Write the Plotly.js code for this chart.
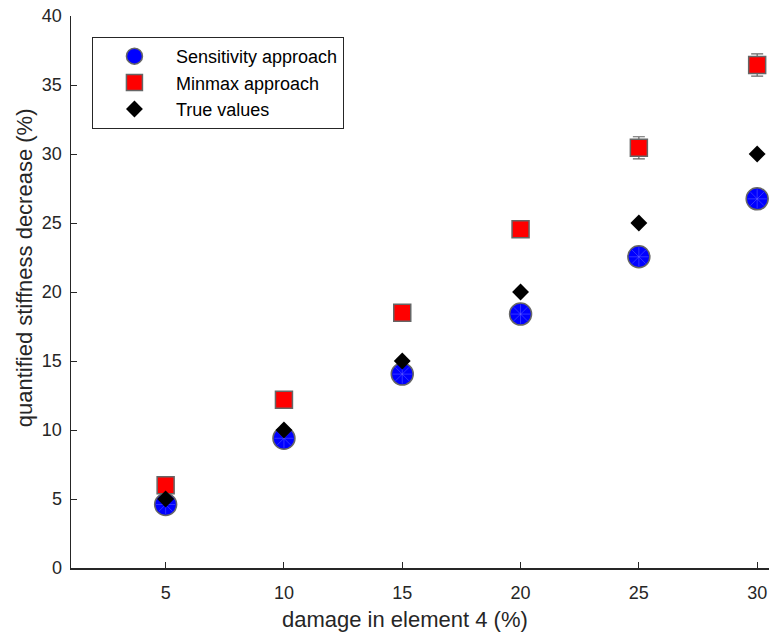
<!DOCTYPE html>
<html>
<head>
<meta charset="utf-8">
<script src="https://cdn.plot.ly/plotly-3.0.1.min.js"></script>
<style>html,body{margin:0;padding:0;background:#fff;}#chart{width:771px;height:633px;}</style>
</head>
<body>
<div id="chart"></div>
<script>
const damage = [5, 10, 15, 20, 25, 30];
const sensitivity = [4.6, 9.4, 14.05, 18.4, 22.55, 26.75];
const minmax = [6.0, 12.2, 18.5, 24.55, 30.45, 36.45];
const minmaxErr = [0.2, 0.2, 0.3, 0.4, 0.8, 0.8];
const trueValues = [5, 10, 15, 20, 25, 30];
const xTicks = [5, 10, 15, 20, 25, 30];
const yTicks = [0, 5, 10, 15, 20, 25, 30, 35, 40];
const xTitle = "damage in element 4 (%)";
const yTitle = "quantified stiffness decrease (%)";

const font = "Liberation Sans, Arial, sans-serif";
const axisColor = "#262626";

const traces = [
  {
    x: damage, y: sensitivity, type: "scatter", mode: "markers",
    name: "Sensitivity approach",
    marker: {symbol: "circle", size: 22, color: "#0000ff", line: {color: "#666666", width: 1.5}}
  },
  {
    x: damage, y: sensitivity, type: "scatter", mode: "markers",
    showlegend: false, hoverinfo: "skip",
    marker: {symbol: "asterisk-open", size: 16, color: "rgba(120,120,255,0.6)", line: {color: "rgba(120,120,255,0.6)", width: 0.7}}
  },
  {
    x: damage, y: minmax, type: "scatter", mode: "markers",
    name: "Minmax approach",
    error_y: {type: "data", array: minmaxErr, visible: true, color: "#666666", thickness: 1.2, width: 6},
    marker: {symbol: "square", size: 17, color: "#ff0000", line: {color: "#666666", width: 1.5}}
  },
  {
    x: damage, y: trueValues, type: "scatter", mode: "markers",
    name: "True values",
    marker: {symbol: "diamond", size: 13, color: "#000000", line: {width: 0}}
  }
];

const layout = {
  width: 771, height: 633,
  margin: {l: 71, r: 2, t: 16, b: 65},
  paper_bgcolor: "#ffffff", plot_bgcolor: "#ffffff",
  font: {family: font, size: 18, color: axisColor},
  showlegend: true,
  legend: {
    x: 0.030, y: 0.962, xanchor: "left", yanchor: "top",
    bordercolor: "#262626", borderwidth: 1, bgcolor: "#ffffff",
    font: {family: font, size: 18, color: "#000000"},
    itemwidth: 73, tracegroupgap: 0
  },
  xaxis: {
    range: [1, 30.5], tickvals: xTicks, ticktext: xTicks.map(String),
    showgrid: false, zeroline: false, showline: true, linecolor: axisColor, linewidth: 1.5,
    ticks: "inside", ticklen: 6, tickcolor: axisColor, tickwidth: 1,
    ticklabelstandoff: 8,
    tickfont: {family: font, size: 18, color: axisColor},
    mirror: false
  },
  yaxis: {
    range: [0, 40], tickvals: yTicks, ticktext: yTicks.map(String),
    showgrid: false, zeroline: false, showline: true, linecolor: axisColor, linewidth: 1.5,
    ticks: "inside", ticklen: 6, tickcolor: axisColor, tickwidth: 1,
    ticklabelstandoff: 4,
    tickfont: {family: font, size: 18, color: axisColor},
    mirror: false
  },
  annotations: [
    {
      text: xTitle, xref: "paper", yref: "paper", x: 0.4785, y: -0.093,
      xanchor: "center", yanchor: "middle", showarrow: false,
      font: {family: font, size: 22, color: axisColor}
    },
    {
      text: yTitle, xref: "paper", yref: "paper", x: -0.0673, y: 0.543,
      xanchor: "center", yanchor: "middle", showarrow: false, textangle: -90,
      font: {family: font, size: 22, color: axisColor}
    }
  ]
};

Plotly.newPlot("chart", traces, layout, {displayModeBar: false, staticPlot: true});
</script>
</body>
</html>
